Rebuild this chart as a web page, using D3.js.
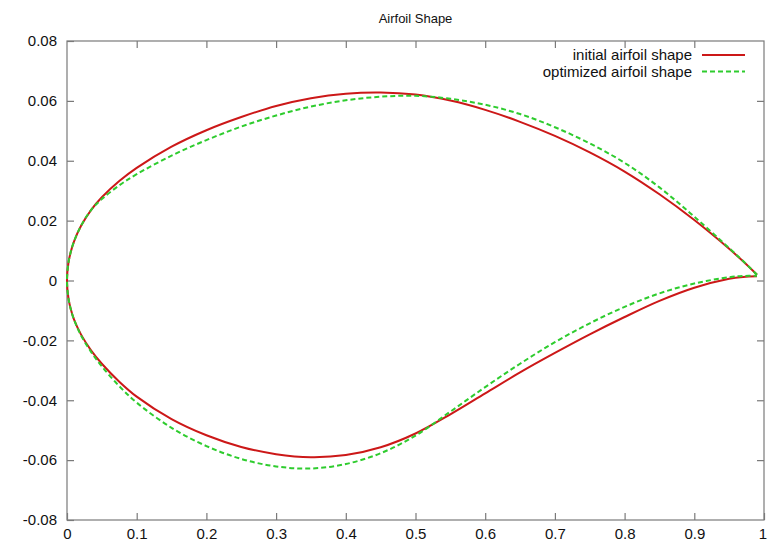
<!DOCTYPE html>
<html>
<head>
<meta charset="utf-8">
<script src="https://cdn.jsdelivr.net/npm/d3@7"></script>
<style>
  html, body { margin: 0; padding: 0; background: #fff; }
  svg { display: block; }
  text { font-family: "Liberation Sans", Arial, Helvetica, sans-serif; fill: #111; }
</style>
</head>
<body>
<svg id="chart" width="767" height="542"></svg>
<script>
// ---- data ----
const chartTitle = "Airfoil Shape";
const seriesNames = ["initial airfoil shape", "optimized airfoil shape"];
const xStations = [0, 0.002, 0.005, 0.01, 0.02, 0.035, 0.05, 0.075, 0.1, 0.15, 0.2, 0.25, 0.3, 0.35, 0.4, 0.45, 0.5, 0.55, 0.6, 0.65, 0.7, 0.75, 0.8, 0.85, 0.9, 0.95, 0.97, 0.99];
const initialUpper   = [0, 0.0058, 0.0092, 0.013, 0.0182, 0.0237, 0.0278, 0.0332, 0.0376, 0.0447, 0.0502, 0.0546, 0.0583, 0.0609, 0.0624, 0.0628, 0.0621, 0.0601, 0.057, 0.053, 0.0483, 0.0428, 0.0364, 0.0288, 0.0202, 0.0106, 0.0064, 0.0019];
const initialLower   = [0, -0.0058, -0.0092, -0.013, -0.018, -0.0235, -0.0278, -0.0338, -0.0388, -0.0463, -0.0517, -0.0556, -0.058, -0.059, -0.0583, -0.0557, -0.0511, -0.0447, -0.0377, -0.0307, -0.0242, -0.018, -0.0122, -0.0068, -0.0024, 0.0006, 0.0012, 0.0014];
const optimizedUpper = [0, 0.0058, 0.0092, 0.013, 0.0182, 0.0237, 0.0272, 0.0318, 0.0355, 0.0417, 0.0469, 0.0514, 0.0551, 0.0581, 0.0602, 0.0614, 0.0617, 0.0607, 0.0587, 0.0556, 0.0512, 0.0458, 0.0393, 0.0311, 0.0213, 0.0108, 0.0065, 0.0019];
const optimizedLower = [0, -0.0058, -0.0092, -0.013, -0.0183, -0.024, -0.0287, -0.0353, -0.0408, -0.0492, -0.0553, -0.0596, -0.0621, -0.0628, -0.0613, -0.0577, -0.0518, -0.0438, -0.0356, -0.0278, -0.0206, -0.0143, -0.0088, -0.0043, -0.001, 0.0011, 0.0015, 0.0016];
const xTicks = [0, 0.1, 0.2, 0.3, 0.4, 0.5, 0.6, 0.7, 0.8, 0.9, 1];
const xTickLabels = ["0", "0.1", "0.2", "0.3", "0.4", "0.5", "0.6", "0.7", "0.8", "0.9", "1"];
const yTicks = [0.08, 0.06, 0.04, 0.02, 0, -0.02, -0.04, -0.06, -0.08];
const yTickLabels = ["0.08", "0.06", "0.04", "0.02", "0", "-0.02", "-0.04", "-0.06", "-0.08"];

// ---- layout ----
const W = 767, H = 542;
const m = { left: 67, right: 3, top: 41, bottom: 22 };
const svg = d3.select("#chart");

const x = d3.scaleLinear().domain([0, 1]).range([m.left, W - m.right]);
const y = d3.scaleLinear().domain([-0.08, 0.08]).range([H - m.bottom, m.top]);

const frameColor = "#7a7a7a";
const tickLen = 7;

// frame
svg.append("rect")
  .attr("x", x(0)).attr("y", y(0.08))
  .attr("width", x(1) - x(0)).attr("height", y(-0.08) - y(0.08))
  .attr("fill", "none").attr("stroke", frameColor).attr("stroke-width", 1.2);

// axes (inward ticks, mirrored)
function styleAxis(g) {
  g.select(".domain").remove();
  g.selectAll(".tick line").attr("stroke", frameColor).attr("stroke-width", 1.2);
  g.selectAll(".tick text").style("font-size", "15px").attr("fill", "#111");
}
const fmtX = (d) => xTickLabels[xTicks.indexOf(d)];
const fmtY = (d) => yTickLabels[yTicks.indexOf(d)];

const xAxisG = svg.append("g").attr("transform", `translate(0,${y(-0.08)})`)
  .call(d3.axisBottom(x).tickValues(xTicks).tickFormat(fmtX).tickSizeInner(-tickLen).tickSizeOuter(0).tickPadding(8))
  .call(styleAxis);
// keep the last label ("1") inside the canvas edge
xAxisG.selectAll(".tick").filter(d => d === 1).select("text")
  .attr("text-anchor", "end").attr("x", W - x(1) - 0.5);

svg.append("g").attr("transform", `translate(0,${y(0.08)})`)
  .call(d3.axisTop(x).tickValues(xTicks.filter(d => d > 0 && d < 1)).tickFormat("").tickSizeInner(-tickLen).tickSizeOuter(0))
  .call(styleAxis);
svg.append("g").attr("transform", `translate(${x(0)},0)`)
  .call(d3.axisLeft(y).tickValues(yTicks).tickFormat(fmtY).tickSizeInner(-tickLen).tickSizeOuter(0).tickPadding(10))
  .call(styleAxis);
svg.append("g").attr("transform", `translate(${x(1)},0)`)
  .call(d3.axisRight(y).tickValues(yTicks.filter(d => d > -0.08 && d < 0.08)).tickFormat("").tickSizeInner(-tickLen).tickSizeOuter(0))
  .call(styleAxis);

// title
svg.append("text")
  .attr("x", (x(0) + x(1)) / 2).attr("y", 23)
  .attr("text-anchor", "middle")
  .style("font-size", "13px")
  .text(chartTitle);

// curves: trailing edge -> upper -> leading edge -> lower -> trailing edge
function contour(upper, lower) {
  const pts = [];
  for (let i = xStations.length - 1; i >= 1; i--) pts.push([xStations[i], upper[i]]);
  pts.push([xStations[0], upper[0]]);
  for (let i = 1; i < xStations.length; i++) pts.push([xStations[i], lower[i]]);
  return pts;
}
const line = d3.line()
  .x(d => x(d[0])).y(d => y(d[1]))
  .curve(d3.curveCatmullRom.alpha(0.5));

const series = [
  { name: seriesNames[0], pts: contour(initialUpper, initialLower), color: "#cc1818", dash: null },
  { name: seriesNames[1], pts: contour(optimizedUpper, optimizedLower), color: "#2ecc2e", dash: "5,3" }
];

series.forEach(s => {
  svg.append("path")
    .attr("d", line(s.pts))
    .attr("fill", "none")
    .attr("stroke", s.color)
    .attr("stroke-width", 2)
    .attr("stroke-dasharray", s.dash)
    .attr("stroke-linejoin", "round");
});

// legend
const legend = svg.append("g");
series.forEach((s, i) => {
  const ly = 55 + i * 16.5;
  legend.append("text")
    .attr("x", 692).attr("y", ly + 5)
    .attr("text-anchor", "end")
    .style("font-size", "15px")
    .text(s.name);
  legend.append("line")
    .attr("x1", 702).attr("x2", 745)
    .attr("y1", ly).attr("y2", ly)
    .attr("stroke", s.color).attr("stroke-width", 2)
    .attr("stroke-dasharray", s.dash);
});
</script>
</body>
</html>
